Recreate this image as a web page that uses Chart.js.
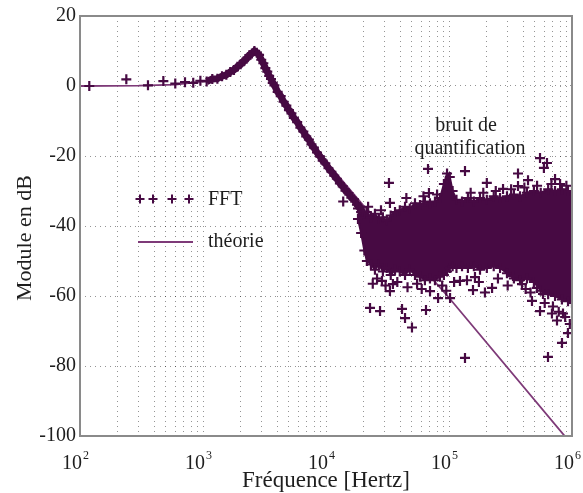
<!DOCTYPE html>
<html lang="fr">
<head>
  <meta charset="UTF-8">
  <title>Module en dB</title>
  <script src="https://cdn.jsdelivr.net/npm/chart.js"></script>
  <style>
    html, body { margin: 0; padding: 0; background: #fff; }
    canvas { display: block; }
  </style>
</head>
<body>
  <canvas id="bode" width="583" height="493"></canvas>

  <script>
    // FFT : raies basse fréquence, résonance puis pente
    const fftFreq = [119, 238, 357, 476, 595, 714, 833, 952, 1071, 1190, 1309, 1428, 1547, 1666, 1785, 1904,
      2023, 2142, 2261, 2380, 2499, 2618, 2737, 2856, 2975, 3094, 3213, 3332, 3451, 3570, 3689, 3808,
      4046, 4284, 4522, 4760, 4998, 5236, 5474, 5831, 6188, 6545, 6902, 7259, 7616, 7973, 8449, 8925,
      9401, 9877, 10472, 11067, 11662, 12257, 12971, 13685, 14399, 15232, 16065, 16898, 17850, 18802, 19754];
    const fftDb = [0.0, 1.9, 0.2, 1.4, 0.7, 1.1, 0.9, 1.5, 1.3, 2.0, 2.1, 2.8, 3.2, 4.0, 4.6, 5.5,
      6.2, 7.1, 7.8, 8.8, 9.3, 10.0, 9.5, 8.9, 7.5, 6.5, 5.1, 4.1, 2.9, 2.0, 0.9, 0.2,
      -1.7, -2.9, -4.5, -5.6, -6.9, -7.8, -9.1, -10.3, -11.9, -13.0, -14.4, -15.3, -16.7, -17.6, -19.0, -20.1,
      -21.3, -22.1, -23.5, -24.5, -25.6, -26.5, -27.8, -28.7, -29.9, -30.6, -31.9, -32.4, -33.9, -34.5, -35.8];

    // bruit de quantification : bord haut et bord bas du nuage de points
    const noiseFreq = [18200, 19300, 20500, 21500, 23200, 25000, 26900, 29000, 31200, 33600, 36400, 39800,
      43900, 48000, 52900, 58100, 63700, 70000, 76900, 84500, 90900, 96400, 101500, 107000, 115000,
      127600, 142500, 159300, 178700, 203000, 231000, 260000, 296000, 337000, 378000, 430000, 490000,
      557000, 640000, 728000, 828000, 928000, 1000000];
    const noiseTop = [-35, -36, -36.5, -36, -37.5, -36.5, -38, -37.5, -38.5, -37, -36, -35.5,
      -34.5, -35, -33.5, -34, -33, -33.5, -33, -32, -28, -25, -26, -30, -32.5,
      -33, -32, -33, -32, -32.5, -31.5, -32, -31.5, -31, -31.5, -30.5, -30,
      -30.5, -29.5, -30, -29.5, -30, -30];
    const noiseBottom = [-38, -42, -47, -50, -51, -52.5, -51, -53, -52, -54, -52.5, -53,
      -54, -52.5, -54, -54.5, -55.5, -55, -55.5, -54.5, -54, -53, -52, -51.5, -52,
      -51.5, -52, -51.5, -52.5, -52, -51.5, -52, -53.5, -55, -55.5, -55, -56,
      -58.5, -59.5, -60, -61, -61.5, -62];

    // raies isolées au-dessus et au-dessous du nuage
    const spurFreq = [13800, 22800, 27500, 28500, 32500, 33100, 33100, 35000, 41500, 43900, 50000, 65000,
      67500, 68700, 70100, 81500, 102000, 122800, 134900, 134900, 156700, 162600, 196000, 203000,
      223900, 275000, 331500, 364000, 364000, 392000, 439000, 472800, 519000, 549500, 549500, 581000,
      591000, 626000, 638000, 687000, 728000, 755000, 829000, 845000, 927000];
    const spurDb = [-33, -63.4, -64.3, -55.7, -27.7, -33.4, -58.6, -56.6, -63.7, -66.3, -69, -64,
      -23.7, -30.6, -58.6, -60.6, -60.6, -55.7, -77.7, -24.3, -58.3, -54.6, -59, -27.7,
      -57.7, -29.4, -54.3, -25, -28.6, -56.6, -26.9, -61.4, -57.7, -64.3, -20.6, -59.4,
      -23.4, -22, -77.4, -65, -26.6, -67, -73.4, -65, -70.6];

    // raies collées aux bords du nuage
    const edgeFreq = [22000, 24000, 26000, 28000, 30500, 38000, 45000, 46000, 55000, 60000, 62000, 80000,
      88000, 95000, 110000, 140000, 150000, 175000, 190000, 240000, 250000, 300000, 320000, 410000,
      420000, 460000, 520000, 600000, 680000, 700000, 780000, 800000, 880000, 900000, 960000];
    const edgeDb = [-34.5, -56.5, -55, -35.5, -57, -56, -32, -57.5, -56.5, -58, -31.5, -31,
      -57, -58.5, -56, -55.5, -30.5, -56, -30.5, -30, -55, -57, -29.5, -29,
      -58, -59, -28.5, -62, -28, -63, -64.5, -28, -66, -28.5, -68];

    // réponse théorique
    const theoFreq = [100, 300, 600, 1000, 1400, 1800, 2100, 2400, 2650, 2900, 3200, 3500, 4000,
      5000, 7000, 10000, 20000, 50000, 100000, 1000000];
    const theoDb = [0, 0.1, 0.4, 1.3, 2.7, 4.6, 6.5, 8.8, 9.9, 8.8, 6.0, 3.2, -0.6,
      -6.8, -14.3, -21.5, -34, -48.5, -60.5, -102.5];

    const decades = [2, 3, 4, 5, 6];
    const dbTicks = [20, 0, -20, -40, -60, -80, -100];

    const ink = '#470a43';
    const theoColor = '#7e3a78';
    const serif = '"Liberation Serif", "DejaVu Serif", serif';

    const pts = (xs, ys) => xs.map((f, i) => ({ x: f, y: ys[i] }));

    const cross = {
      showLine: false,
      pointStyle: 'cross',
      pointRadius: 5,
      pointBorderWidth: 2.2,
      pointBorderColor: ink,
      pointBackgroundColor: ink
    };

    // textes, légende et cadre
    const decor = {
      id: 'decor',
      afterDatasetsDraw(chart) {
        const { ctx, chartArea: a, scales: { x } } = chart;
        ctx.save();

        ctx.strokeStyle = '#8a8a8a';
        ctx.lineWidth = 2;
        ctx.strokeRect(a.left, a.top, a.right - a.left, a.bottom - a.top);

        ctx.fillStyle = '#1e1e1e';
        ctx.textBaseline = 'alphabetic';

        // étiquettes 10^n
        decades.forEach(e => {
          const px = x.getPixelForValue(Math.pow(10, e));
          ctx.font = '20px ' + serif;
          ctx.textAlign = 'right';
          ctx.fillText('10', px + 2, a.bottom + 33);
          ctx.font = '12px ' + serif;
          ctx.textAlign = 'left';
          ctx.fillText(String(e), px + 3, a.bottom + 23);
        });

        ctx.font = '23px ' + serif;
        ctx.textAlign = 'center';
        ctx.fillText('Fréquence [Hertz]', (a.left + a.right) / 2, a.bottom + 51);

        ctx.save();
        ctx.translate(31, 238);
        ctx.rotate(-Math.PI / 2);
        ctx.font = '22px ' + serif;
        ctx.fillText('Module en dB', 0, 0);
        ctx.restore();

        // légende
        ctx.strokeStyle = ink;
        ctx.lineWidth = 2;
        [140, 153, 172, 189].forEach(cx => {
          ctx.beginPath();
          ctx.moveTo(cx - 4.5, 199); ctx.lineTo(cx + 4.5, 199);
          ctx.moveTo(cx, 194.5); ctx.lineTo(cx, 203.5);
          ctx.stroke();
        });
        ctx.strokeStyle = theoColor;
        ctx.lineWidth = 1.8;
        ctx.beginPath();
        ctx.moveTo(138, 242); ctx.lineTo(193, 242);
        ctx.stroke();

        ctx.font = '20px ' + serif;
        ctx.textAlign = 'left';
        ctx.textBaseline = 'middle';
        ctx.fillText('FFT', 208, 200);
        ctx.fillText('théorie', 208, 242);

        ctx.textAlign = 'center';
        ctx.fillText('bruit de', 466, 126);
        ctx.fillText('quantification', 470, 149);

        ctx.restore();
      }
    };

    const ctx = document.getElementById('bode').getContext('2d');
    const chart = new Chart(ctx, {
      type: 'line',
      data: {
        datasets: [
          Object.assign({ label: 'FFT', data: pts(fftFreq, fftDb), order: 1 }, cross, {
            showLine: true,
            borderColor: ink,
            borderWidth: 7,
            // trait plein seulement là où les raies se chevauchent
            segment: { borderColor: s => s.p0.parsed.x < 1000 ? 'rgba(0,0,0,0)' : ink }
          }),
          Object.assign({ label: 'raies', data: pts(spurFreq, spurDb), order: 1 }, cross),
          Object.assign({ label: 'bords', data: pts(edgeFreq, edgeDb), order: 1 }, cross),
          Object.assign({
            label: 'bruit bas', data: pts(noiseFreq, noiseBottom), order: 2,
            fill: false, borderColor: ink, borderWidth: 2
          }, cross, { showLine: true }),
          Object.assign({
            label: 'bruit haut', data: pts(noiseFreq, noiseTop), order: 2,
            fill: '-1', borderColor: ink, borderWidth: 2, backgroundColor: ink
          }, cross, { showLine: true }),
          {
            label: 'théorie', data: pts(theoFreq, theoDb), order: 5,
            borderColor: theoColor, borderWidth: 1.8, pointRadius: 0, fill: false
          }
        ]
      },
      options: {
        responsive: false,
        devicePixelRatio: 1,
        animation: false,
        events: [],
        layout: { padding: { top: 15, right: 11, left: 0, bottom: 0 } },
        elements: { line: { tension: 0 } },
        plugins: { legend: { display: false }, tooltip: { enabled: false } },
        scales: {
          x: {
            type: 'logarithmic',
            min: 100,
            max: 1000000,
            afterBuildTicks(scale) {
              const t = [];
              for (let e = 2; e < 6; e++) {
                for (let m = 1; m < 10; m++) t.push({ value: m * Math.pow(10, e) });
              }
              t.push({ value: 1000000 });
              scale.ticks = t;
            },
            afterFit(scale) { scale.height = 57; },
            ticks: { display: false },
            grid: { color: 'rgba(0,0,0,0.42)', lineWidth: 1, drawTicks: false },
            border: { display: false, dash: [1, 4] }
          },
          y: {
            min: -100,
            max: 20,
            afterBuildTicks(scale) {
              scale.ticks = dbTicks.map(v => ({ value: v }));
            },
            afterFit(scale) { scale.width = 80; },
            ticks: {
              padding: 4,
              color: '#1e1e1e',
              font: { family: serif, size: 20 },
              callback: v => String(v)
            },
            grid: { color: 'rgba(0,0,0,0.42)', lineWidth: 1, drawTicks: false },
            border: { display: false, dash: [1, 4] }
          }
        }
      },
      plugins: [decor]
    });
  </script>
</body>
</html>
